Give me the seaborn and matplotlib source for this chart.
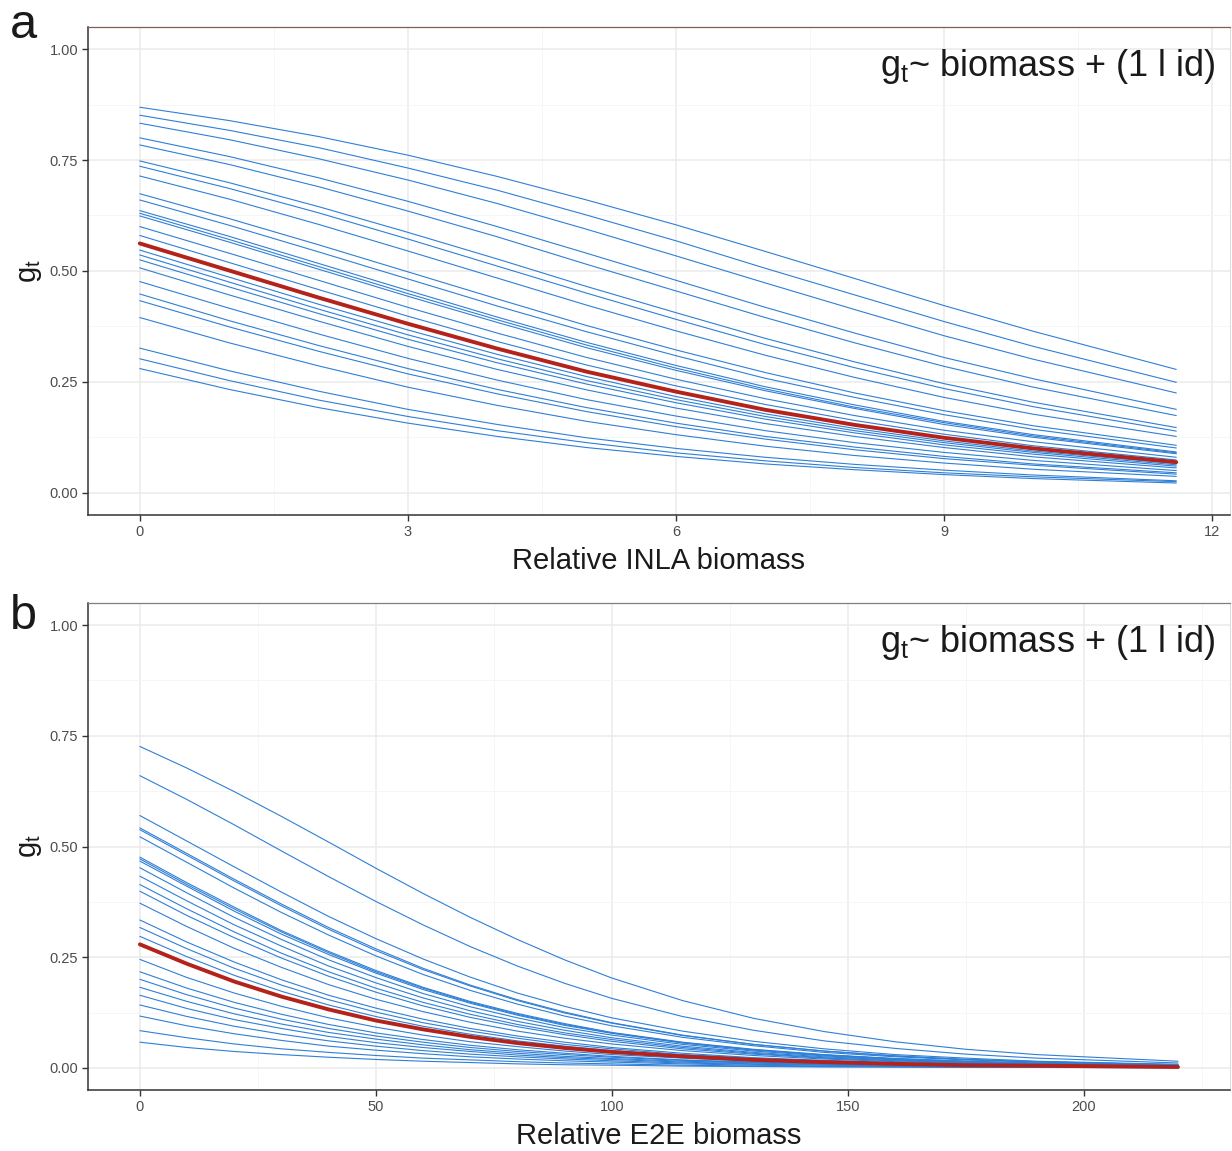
import numpy as np
import pandas as pd
import matplotlib
matplotlib.use('Agg')
import matplotlib.pyplot as plt
import seaborn as sns
from matplotlib.ticker import MultipleLocator, FormatStrFormatter

# Panel a: g_t against relative INLA biomass, one curve per id
inla_x = [0, 1, 2, 3, 4, 5, 6, 7, 8, 9, 10, 11.6]
inla_ids = [
    [0.869, 0.839, 0.803, 0.761, 0.713, 0.660, 0.604, 0.544, 0.483, 0.422, 0.364, 0.278],
    [0.851, 0.817, 0.778, 0.732, 0.682, 0.626, 0.568, 0.506, 0.446, 0.386, 0.330, 0.249],
    [0.833, 0.796, 0.753, 0.705, 0.652, 0.594, 0.534, 0.473, 0.413, 0.354, 0.301, 0.225],
    [0.800, 0.758, 0.710, 0.657, 0.600, 0.540, 0.479, 0.418, 0.360, 0.305, 0.257, 0.188],
    [0.784, 0.740, 0.690, 0.635, 0.577, 0.515, 0.455, 0.395, 0.338, 0.285, 0.238, 0.174],
    [0.748, 0.699, 0.645, 0.587, 0.527, 0.465, 0.406, 0.348, 0.295, 0.246, 0.204, 0.147],
    [0.736, 0.686, 0.631, 0.572, 0.511, 0.450, 0.391, 0.334, 0.282, 0.235, 0.194, 0.139],
    [0.714, 0.662, 0.605, 0.545, 0.484, 0.423, 0.365, 0.310, 0.260, 0.215, 0.177, 0.127],
    [0.674, 0.618, 0.559, 0.498, 0.437, 0.377, 0.322, 0.271, 0.225, 0.185, 0.151, 0.107],
    [0.660, 0.603, 0.543, 0.482, 0.421, 0.363, 0.309, 0.258, 0.215, 0.176, 0.143, 0.101],
    [0.636, 0.578, 0.517, 0.456, 0.396, 0.339, 0.287, 0.239, 0.198, 0.161, 0.131, 0.092],
    [0.630, 0.571, 0.510, 0.449, 0.390, 0.333, 0.281, 0.234, 0.193, 0.158, 0.128, 0.090],
    [0.624, 0.565, 0.504, 0.443, 0.384, 0.327, 0.276, 0.230, 0.190, 0.154, 0.125, 0.088],
    [0.600, 0.540, 0.479, 0.418, 0.360, 0.305, 0.256, 0.212, 0.174, 0.141, 0.115, 0.080],
    [0.580, 0.519, 0.458, 0.398, 0.341, 0.288, 0.241, 0.199, 0.163, 0.132, 0.106, 0.074],
    [0.547, 0.486, 0.425, 0.367, 0.312, 0.262, 0.217, 0.178, 0.145, 0.117, 0.094, 0.066],
    [0.536, 0.475, 0.414, 0.356, 0.302, 0.253, 0.210, 0.172, 0.140, 0.113, 0.091, 0.063],
    [0.525, 0.464, 0.404, 0.346, 0.293, 0.245, 0.203, 0.166, 0.135, 0.108, 0.087, 0.060],
    [0.507, 0.446, 0.387, 0.330, 0.278, 0.232, 0.191, 0.156, 0.127, 0.102, 0.081, 0.056],
    [0.476, 0.416, 0.358, 0.303, 0.254, 0.210, 0.173, 0.140, 0.113, 0.091, 0.073, 0.050],
    [0.448, 0.388, 0.332, 0.280, 0.233, 0.192, 0.157, 0.127, 0.103, 0.082, 0.065, 0.045],
    [0.433, 0.374, 0.319, 0.268, 0.223, 0.183, 0.149, 0.121, 0.097, 0.077, 0.062, 0.042],
    [0.395, 0.338, 0.286, 0.238, 0.197, 0.161, 0.131, 0.105, 0.084, 0.067, 0.053, 0.037],
    [0.326, 0.275, 0.229, 0.188, 0.154, 0.124, 0.100, 0.080, 0.064, 0.051, 0.040, 0.027],
    [0.302, 0.253, 0.209, 0.172, 0.140, 0.113, 0.090, 0.072, 0.057, 0.045, 0.036, 0.025],
    [0.280, 0.233, 0.192, 0.157, 0.127, 0.102, 0.082, 0.065, 0.052, 0.041, 0.032, 0.022],
]
inla_mean = [0.562, 0.501, 0.440, 0.381, 0.325, 0.273, 0.228, 0.187, 0.153, 0.124, 0.100, 0.069]

# Panel b: g_t against relative E2E biomass
e2e_x = [0, 10, 20, 30, 40, 50, 60, 70, 80, 90, 100, 115, 130, 145, 160, 175, 190, 220]
e2e_ids = [
    [0.726, 0.677, 0.624, 0.568, 0.510, 0.451, 0.394, 0.340, 0.290, 0.244, 0.203, 0.152, 0.112, 0.082, 0.059, 0.042, 0.030, 0.015],
    [0.660, 0.606, 0.549, 0.490, 0.432, 0.376, 0.323, 0.274, 0.230, 0.191, 0.157, 0.116, 0.085, 0.061, 0.044, 0.031, 0.022, 0.011],
    [0.570, 0.512, 0.454, 0.397, 0.342, 0.292, 0.246, 0.205, 0.169, 0.139, 0.113, 0.083, 0.060, 0.043, 0.030, 0.022, 0.015, 0.008],
    [0.542, 0.484, 0.426, 0.370, 0.317, 0.269, 0.225, 0.187, 0.154, 0.126, 0.102, 0.074, 0.053, 0.038, 0.027, 0.019, 0.014, 0.007],
    [0.538, 0.480, 0.422, 0.366, 0.313, 0.265, 0.222, 0.185, 0.152, 0.124, 0.101, 0.073, 0.053, 0.038, 0.027, 0.019, 0.014, 0.007],
    [0.522, 0.464, 0.406, 0.351, 0.300, 0.253, 0.211, 0.175, 0.144, 0.117, 0.095, 0.069, 0.050, 0.035, 0.025, 0.018, 0.013, 0.006],
    [0.476, 0.418, 0.363, 0.310, 0.263, 0.220, 0.182, 0.150, 0.123, 0.100, 0.080, 0.058, 0.042, 0.030, 0.021, 0.015, 0.011, 0.005],
    [0.472, 0.414, 0.359, 0.307, 0.260, 0.217, 0.180, 0.148, 0.121, 0.098, 0.079, 0.057, 0.041, 0.029, 0.021, 0.015, 0.010, 0.005],
    [0.467, 0.410, 0.354, 0.302, 0.256, 0.214, 0.177, 0.146, 0.119, 0.096, 0.078, 0.056, 0.040, 0.029, 0.020, 0.014, 0.010, 0.005],
    [0.452, 0.395, 0.340, 0.290, 0.244, 0.204, 0.168, 0.138, 0.113, 0.091, 0.074, 0.053, 0.038, 0.027, 0.019, 0.014, 0.010, 0.005],
    [0.433, 0.377, 0.323, 0.275, 0.230, 0.192, 0.158, 0.129, 0.105, 0.085, 0.068, 0.049, 0.035, 0.025, 0.018, 0.013, 0.009, 0.004],
    [0.414, 0.359, 0.307, 0.259, 0.217, 0.180, 0.148, 0.121, 0.098, 0.079, 0.064, 0.046, 0.033, 0.023, 0.016, 0.012, 0.008, 0.004],
    [0.399, 0.344, 0.294, 0.248, 0.207, 0.171, 0.140, 0.114, 0.093, 0.075, 0.060, 0.043, 0.031, 0.022, 0.016, 0.011, 0.008, 0.004],
    [0.372, 0.319, 0.270, 0.227, 0.188, 0.155, 0.127, 0.103, 0.083, 0.067, 0.054, 0.039, 0.028, 0.020, 0.014, 0.010, 0.007, 0.003],
    [0.334, 0.284, 0.239, 0.199, 0.164, 0.135, 0.110, 0.089, 0.072, 0.058, 0.046, 0.033, 0.023, 0.017, 0.012, 0.008, 0.006, 0.003],
    [0.317, 0.269, 0.225, 0.187, 0.154, 0.126, 0.102, 0.083, 0.067, 0.053, 0.043, 0.030, 0.022, 0.015, 0.011, 0.008, 0.005, 0.003],
    [0.297, 0.251, 0.209, 0.173, 0.142, 0.116, 0.094, 0.076, 0.061, 0.049, 0.039, 0.028, 0.020, 0.014, 0.010, 0.007, 0.005, 0.002],
    [0.245, 0.204, 0.169, 0.139, 0.113, 0.092, 0.074, 0.059, 0.048, 0.038, 0.030, 0.022, 0.015, 0.011, 0.008, 0.005, 0.004, 0.002],
    [0.217, 0.180, 0.148, 0.121, 0.098, 0.079, 0.064, 0.051, 0.041, 0.033, 0.026, 0.018, 0.013, 0.009, 0.007, 0.005, 0.003, 0.002],
    [0.200, 0.165, 0.135, 0.110, 0.089, 0.072, 0.058, 0.046, 0.037, 0.030, 0.024, 0.017, 0.012, 0.008, 0.006, 0.004, 0.003, 0.001],
    [0.182, 0.150, 0.122, 0.099, 0.080, 0.065, 0.052, 0.041, 0.033, 0.026, 0.021, 0.015, 0.011, 0.007, 0.005, 0.004, 0.003, 0.001],
    [0.164, 0.134, 0.109, 0.089, 0.071, 0.057, 0.046, 0.037, 0.029, 0.023, 0.019, 0.013, 0.009, 0.007, 0.005, 0.003, 0.002, 0.001],
    [0.142, 0.116, 0.094, 0.076, 0.061, 0.049, 0.039, 0.031, 0.025, 0.020, 0.016, 0.011, 0.008, 0.006, 0.004, 0.003, 0.002, 0.001],
    [0.117, 0.095, 0.077, 0.062, 0.049, 0.040, 0.032, 0.025, 0.020, 0.016, 0.013, 0.009, 0.006, 0.004, 0.003, 0.002, 0.002, 0.001],
    [0.084, 0.068, 0.054, 0.043, 0.035, 0.028, 0.022, 0.018, 0.014, 0.011, 0.009, 0.006, 0.004, 0.003, 0.002, 0.002, 0.001, 0.001],
    [0.058, 0.046, 0.037, 0.030, 0.024, 0.019, 0.015, 0.012, 0.009, 0.007, 0.006, 0.004, 0.003, 0.002, 0.002, 0.001, 0.001, 0.000],
]
e2e_mean = [0.279, 0.235, 0.195, 0.161, 0.132, 0.107, 0.087, 0.070, 0.056, 0.045, 0.036, 0.026, 0.018, 0.013, 0.009, 0.006, 0.005, 0.002]

sns.set_style('white')
plt.rcParams['font.family'] = ['Liberation Sans', 'DejaVu Sans']
plt.rcParams['mathtext.default'] = 'regular'

blue = '#2f7fd6'
red = '#b3231c'
formula = r'g$_{t}$~ biomass + (1 l id)'


def long_table(xs, curves):
    # one row per (id, x) so seaborn can draw each id as its own line
    rows = [(i, x, y) for i, c in enumerate(curves) for x, y in zip(xs, c)]
    return pd.DataFrame(rows, columns=['id', 'biomass', 'gt'])


def draw_panel(ax, xs, curves, mean, xlim, xmajor, xlabel, top_color):
    df = long_table(xs, curves)
    sns.lineplot(data=df, x='biomass', y='gt', units='id', estimator=None,
                 color=blue, linewidth=0.8, ax=ax)
    sns.lineplot(x=xs, y=mean, color=red, linewidth=2.8, ax=ax)

    ax.set_xlim(*xlim)
    ax.set_ylim(-0.05, 1.05)
    ax.xaxis.set_major_locator(MultipleLocator(xmajor))
    ax.xaxis.set_minor_locator(MultipleLocator(xmajor / 2))
    ax.yaxis.set_major_locator(MultipleLocator(0.25))
    ax.yaxis.set_minor_locator(MultipleLocator(0.125))
    ax.yaxis.set_major_formatter(FormatStrFormatter('%.2f'))

    ax.set_axisbelow(True)
    ax.grid(which='major', color='#ebebeb', linewidth=1.1)
    ax.grid(which='minor', color='#f3f5f9', linewidth=0.6)

    for side in ['left', 'bottom']:
        ax.spines[side].set_color('#333333')
        ax.spines[side].set_linewidth(1.1)
    ax.spines['top'].set_color(top_color)
    ax.spines['top'].set_linewidth(0.9)
    ax.spines['right'].set_color('#dddddd')

    ax.tick_params(which='major', direction='out', length=4, width=1,
                   color='#333333', labelsize=10.5, labelcolor='#4d4d4d', pad=3,
                   left=True, bottom=True)
    ax.tick_params(which='minor', length=0)

    ax.set_xlabel(xlabel, fontsize=21, color='#1a1a1a', labelpad=6)
    ax.set_ylabel(r'g$_{t}$', fontsize=21, color='#1a1a1a', labelpad=4)
    ax.text(0.987, 0.900, formula, transform=ax.transAxes, ha='right',
            va='baseline', fontsize=26, color='#1a1a1a')


fig = plt.figure(figsize=(12.32, 11.51), dpi=100)
ax_a = fig.add_axes([0.0714, 0.5526, 0.9269, 0.4240])
ax_b = fig.add_axes([0.0714, 0.0530, 0.9269, 0.4231])

draw_panel(ax_a, inla_x, inla_ids, inla_mean, (-0.58, 12.2), 3,
           'Relative INLA biomass', '#7d5f55')
draw_panel(ax_b, e2e_x, e2e_ids, e2e_mean, (-11, 231), 50,
           'Relative E2E biomass', '#7f7f7f')

# panel letters
fig.text(0.008, 0.967, 'a', fontsize=35, color='#1a1a1a', va='baseline')
fig.text(0.008, 0.4535, 'b', fontsize=35, color='#1a1a1a', va='baseline')

fig.savefig('out.png', dpi=100)
